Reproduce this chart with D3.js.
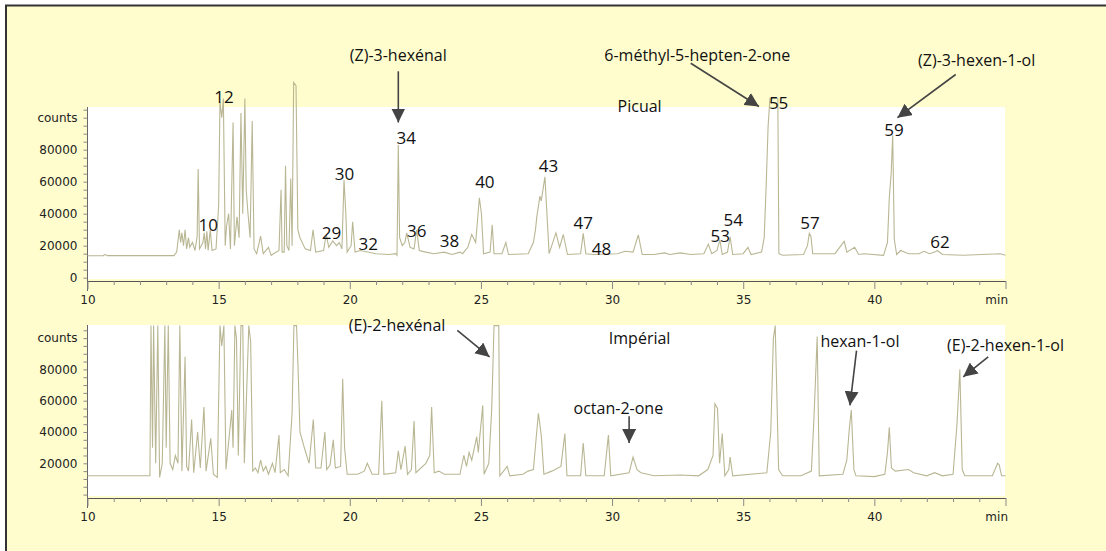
<!DOCTYPE html>
<html>
<head>
<meta charset="utf-8">
<script src="https://cdn.jsdelivr.net/npm/d3@7"></script>
<style>
  html,body{margin:0;padding:0;background:#fff;}
  svg{display:block;}
  .tick text{font-family:"DejaVu Sans",sans-serif;font-size:12px;fill:#222;}
  .lbl{font-family:"Open Sans",sans-serif;fill:#111;}
</style>
</head>
<body>
<script>
// retention time (min) / counts (thousands)
const picualTrace = [
  [10,13.7],[10.6,13.7],[10.67,14.6],[10.75,13.8],[13.3,13.8],
  [13.4,16],[13.5,30],[13.55,22],[13.6,28],[13.66,20],[13.72,30],[13.78,18],[13.85,25],[13.9,19],[14.0,22],[14.1,17],
  [14.18,26],[14.22,68],[14.27,18],[14.4,22],[14.45,28],[14.5,18],[14.55,29],[14.6,17],[14.68,30],[14.75,17],[14.9,18],
  [15.0,45],[15.05,110],[15.12,100],[15.18,112],[15.25,20],[15.3,32],[15.38,40],[15.45,18],[15.55,97],[15.6,20],
  [15.7,38],[15.78,25],[15.85,103],[15.92,40],[16.0,112],[16.05,55],[16.12,40],[16.2,25],[16.28,98],[16.35,18],
  [16.45,15],[16.6,26],[16.7,15],[16.9,19],[17.0,14],[17.3,17],[17.38,55],[17.42,16],[17.5,16],[17.55,70],[17.6,20],
  [17.68,17],[17.75,62],[17.8,20],[17.86,122],[17.95,120],[18.02,30],[18.1,25],[18.3,18],[18.5,17],[18.6,30],[18.7,16],
  [19.0,17],[19.1,27],[19.2,19],[19.35,23],[19.5,20],[19.6,22],[19.7,18],[19.78,61],[19.85,40],[19.9,16],[20.05,20],
  [20.11,35],[20.2,16],[20.4,17],[21.0,15],[21.5,14.5],[21.75,15],[21.8,14],[21.85,83],[21.9,25],[22.0,20],[22.1,22],
  [22.17,28],[22.3,19],[22.45,18],[22.55,30],[22.65,17],[22.9,16],[23.2,15],[23.6,16],[23.9,14.5],[24.2,16],[24.3,15],
  [24.5,19],[24.65,27],[24.8,22],[24.94,50],[25.02,40],[25.1,15],[25.35,16],[25.43,33],[25.5,15],[25.8,15],[25.95,22],
  [26.05,14.5],[26.8,15],[27.0,22],[27.08,30],[27.13,38],[27.25,51],[27.3,48],[27.44,63],[27.5,45],[27.6,15],[27.86,28],
  [28.0,19],[28.14,27],[28.3,14.5],[28.8,15],[28.9,27.7],[29.0,15],[29.3,14.5],[30.2,15],[30.5,16.5],[30.8,16],[31.0,26.7],
  [31.15,14.5],[31.6,14.5],[32.0,15.5],[32.2,14.5],[32.6,15.5],[33.0,14.5],[33.5,15],[33.67,21],[33.8,15],[34.0,17],
  [34.11,23.6],[34.2,14.5],[34.4,16],[34.5,25.6],[34.6,14.5],[35.0,15],[35.18,19],[35.3,14.5],[35.7,16],[35.8,25],
  [35.88,60],[35.95,95],[36.02,112],[36.32,112],[36.36,15],[36.5,14],[37.3,14.5],[37.45,20],[37.52,27.7],[37.58,26],
  [37.65,15],[38.5,15],[38.85,22.7],[38.95,16],[39.25,19],[39.4,14.5],[39.6,15],[40.35,14],[40.5,22],[40.57,50],
  [40.64,65],[40.7,89],[40.76,24],[40.85,14.5],[41.0,17],[41.3,15],[41.7,15],[41.9,16.5],[42.1,15],[42.3,16],[42.4,17],
  [42.6,14.5],[43.4,14],[44.8,15],[45,14]
]
const imperialTrace = [
  [10,12],[12.38,12],[12.42,108],[12.48,30],[12.52,108],[12.6,20],[12.68,108],[12.75,11],[12.85,20],[12.95,108],
  [13.0,30],[13.08,108],[13.15,20],[13.25,16],[13.35,25],[13.45,20],[13.52,108],[13.6,15],[13.72,88],[13.78,18],
  [13.85,15],[13.97,48],[14.05,14],[14.2,40],[14.3,17],[14.44,56],[14.52,15],[14.7,36],[14.8,13],[14.95,11],[15.05,108],
  [15.12,95],[15.2,108],[15.28,16],[15.5,54],[15.55,30],[15.62,108],[15.68,100],[15.75,25],[15.85,108],[15.92,108],
  [15.98,20],[16.15,108],[16.22,98],[16.3,15],[16.4,17],[16.5,14],[16.6,22],[16.7,15],[16.8,18],[16.9,13],[17.05,20],
  [17.15,14],[17.3,38],[17.35,14],[17.5,16],[17.65,12],[17.8,52],[17.87,108],[17.97,108],[18.03,80],[18.1,40],[18.3,28],
  [18.45,20],[18.61,48],[18.7,17],[18.9,17],[19.05,40],[19.12,16],[19.25,19],[19.37,35],[19.45,17],[19.65,18],[19.73,74],
  [19.8,30],[19.9,13],[20.3,13],[20.55,15],[20.67,20],[20.85,13],[21.1,13],[21.22,60],[21.3,13],[21.75,14],[21.85,28],
  [21.95,16],[22.11,31],[22.2,13],[22.35,16],[22.45,47],[22.52,14],[22.9,20],[23.05,25],[23.12,56],[23.22,14],[23.4,15],
  [23.6,13],[24.2,13],[24.35,25],[24.45,18],[24.55,27],[24.65,22],[24.84,37],[24.9,27],[25.07,57],[25.12,13],[25.3,20],
  [25.41,54],[25.5,108],[25.68,108],[25.72,12],[26.0,18],[26.1,12],[26.6,13],[26.8,15],[27.0,16],[27.19,52],[27.3,38],
  [27.4,13],[27.7,15],[28.05,18],[28.2,39],[28.28,12],[28.8,12],[28.9,33],[29.0,12],[29.7,12],[29.86,38],[29.95,12],
  [30.65,14],[30.8,24],[30.95,16],[31.1,14],[31.6,12],[32.6,12.5],[33.3,12],[33.65,16],[33.85,25],[33.92,58],[34.02,55],
  [34.1,20],[34.2,39],[34.3,12],[34.45,16],[34.5,24],[34.6,12],[35.9,14],[36.05,40],[36.15,100],[36.22,108],[36.35,16],
  [36.5,12],[37.2,12],[37.6,15],[37.7,50],[37.82,101],[37.9,12],[38.8,13],[38.95,22],[39.05,43],[39.12,54],[39.22,16],
  [39.3,12],[40.0,11.5],[40.4,13],[40.5,27],[40.57,43],[40.65,17],[40.8,15],[41.3,16],[41.5,14],[42.0,12],[42.3,14],
  [42.6,12],[43.0,13],[43.15,45],[43.26,80],[43.35,16],[43.45,12],[44.5,12],[44.7,20],[44.76,19],[44.85,12],[45,12]
]

// peak numbers on Picual: [label, time, counts(k)] where the label sits
const picualPeaks = [
  ["12",15.2,113],["10",14.6,33],["29",19.3,28],["30",19.8,65],["32",20.7,21],["34",22.15,87],
  ["36",22.55,29],["38",23.8,23],["40",25.15,60],["43",27.58,70],["47",28.9,34],["48",29.6,18],
  ["53",34.12,26],["54",34.62,36],["55",36.35,109],["57",37.55,34],["59",40.75,92],["62",42.5,22]
]
// compound names with arrow start / tip (time, counts k)
const picualNotes = [
  {text:"(Z)-3-hexénal", tx:21.85, ty:139, x1:21.85, y1:129, x2:21.85, y2:97},
  {text:"6-méthyl-5-hepten-2-one", tx:33.25, ty:139, x1:33.0, y1:134, x2:35.6, y2:107},
  {text:"(Z)-3-hexen-1-ol", tx:43.9, ty:136, x1:43.1, y1:127, x2:40.88, y2:100}
]
const imperialNotes = [
  {text:"(E)-2-hexénal", tx:21.8, ty:108, x1:24.1, y1:105, x2:25.33, y2:88},
  {text:"octan-2-one", tx:30.24, ty:55, x1:30.65, y1:50, x2:30.65, y2:33},
  {text:"hexan-1-ol", tx:39.45, ty:98, x1:39.32, y1:92, x2:39.07, y2:57},
  {text:"(E)-2-hexen-1-ol", tx:45.0, ty:95.6, x1:44.34, y1:88, x2:43.39, y2:75.3}
]
const cultivars = [{name:"Picual", t:31.05, c:107}, {name:"Impérial", t:31.05, c:99.5}]

const W=1106, H=551
const svg = d3.select("body").append("svg").attr("width",W).attr("height",H)
svg.append("rect").attr("width",W).attr("height",H).attr("fill","#fff")
svg.append("rect").attr("x",6).attr("y",6).attr("width",W).attr("height",H).attr("fill","#fffdcd")
svg.append("path").attr("d",`M6,${H} V5.5 H${W}`).attr("fill","none").attr("stroke","#333").attr("stroke-width",2)

const x = d3.scaleLinear().domain([10,45]).range([87.5,1005.5])

const panels = [
  {trace:picualTrace, y0:277.7, y100:117.7, top:107, axisY:281, zeroLabel:true, notes:picualNotes, peaks:picualPeaks, cv:cultivars[0]},
  {trace:imperialTrace, y0:494.6, y100:338.1, top:325, axisY:498, zeroLabel:false, notes:imperialNotes, peaks:[], cv:cultivars[1]}
]

svg.append("defs").append("marker").attr("id","ah")
  .attr("viewBox","0 0 10 10").attr("refX",10).attr("refY",5)
  .attr("markerWidth",14).attr("markerHeight",14).attr("markerUnits","userSpaceOnUse")
  .attr("orient","auto")
  .append("path").attr("d","M0,0 L10,5 L0,10 z").attr("fill","#444")

panels.forEach(p=>{
  const y = d3.scaleLinear().domain([0,100]).range([p.y0,p.y100])
  const g = svg.append("g")
  g.append("rect").attr("x",88).attr("y",p.top).attr("width",1005-88).attr("height",p.axisY-2-p.top).attr("fill","#fff")

  // y axis
  const ya = d3.axisLeft(y).tickValues(d3.range(0,106,5)).tickSize(4).tickPadding(6)
    .tickFormat(d=>{
      if(d===100) return "counts"
      if(d%20===0 && d<=80 && (d>0||p.zeroLabel)) return d*1000
      return ""
    })
  const yg = g.append("g").attr("transform","translate(87.5,0)").call(ya)
  yg.select(".domain").attr("d",`M0,${p.top} V${p.axisY+10}`).attr("stroke","#666")
  yg.selectAll(".tick line").attr("stroke","#888")

  // x axis
  const xa = d3.axisBottom(x).tickValues(d3.range(10,46,1))
    .tickSizeInner(4).tickSizeOuter(0).tickPadding(8)
    .tickFormat(d=> d===45 ? "min" : (d%5===0 ? d : ""))
  const xg = g.append("g").attr("transform",`translate(0,${p.axisY})`).call(xa)
  xg.select(".domain").attr("stroke","#555")
  xg.selectAll(".tick line").attr("stroke","#888").attr("y2",d=>d%5===0?8:4)
  xg.selectAll(".tick text").attr("dy","0.95em").attr("text-anchor",d=>d===45?"end":"middle")
    .attr("dx",d=>d===45?"2":"0")

  // trace
  const line = d3.line().x(d=>x(d[0])).y(d=>y(d[1]))
  g.append("path").datum(p.trace).attr("d",line)
    .attr("fill","none").attr("stroke","#b9b793").attr("stroke-width",1.1)

  g.append("text").attr("class","lbl").attr("x",x(p.cv.t)).attr("y",y(p.cv.c))
    .attr("text-anchor","middle").attr("dy","0.35em").attr("font-size",16).text(p.cv.name)

  g.selectAll(".pk").data(p.peaks).join("text").attr("class","lbl pk")
    .attr("x",d=>x(d[1])).attr("y",d=>y(d[2])).attr("text-anchor","middle").attr("dy","0.35em")
    .attr("font-size",17).text(d=>d[0])

  p.notes.forEach(n=>{
    g.append("text").attr("class","lbl").attr("x",x(n.tx)).attr("y",y(n.ty)).attr("dy","0.35em")
      .attr("text-anchor","middle").attr("font-size",16).text(n.text)
    g.append("line").attr("x1",x(n.x1)).attr("y1",y(n.y1)).attr("x2",x(n.x2)).attr("y2",y(n.y2))
      .attr("stroke","#444").attr("stroke-width",1.6).attr("marker-end","url(#ah)")
  })
})
</script>
</body>
</html>
